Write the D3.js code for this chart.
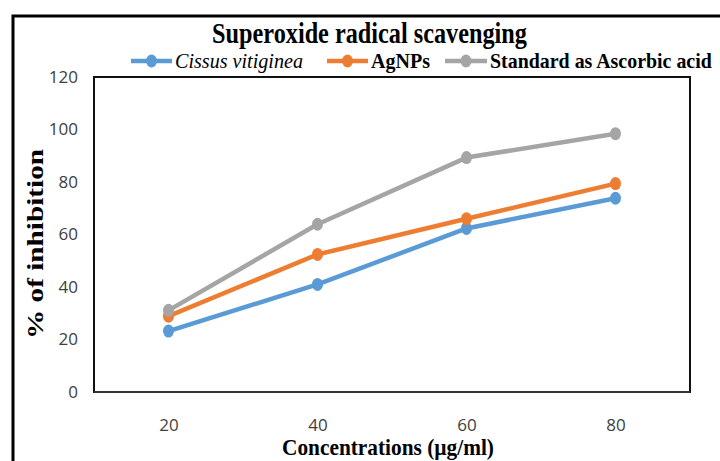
<!DOCTYPE html>
<html><head><meta charset="utf-8">
<script src="https://cdn.jsdelivr.net/npm/d3@7"></script>
<style>
html,body{margin:0;padding:0;background:#fff;}
svg{display:block;}
</style></head>
<body>
<svg id="chart" width="720" height="461"></svg>
<script>
const categories = ["20", "40", "60", "80"];
const cissus = [23.2, 41.0, 62.3, 73.8];
const agnps = [28.9, 52.4, 66.0, 79.4];
const ascorbic = [31.1, 63.9, 89.3, 98.4];
const yTicks = [0, 20, 40, 60, 80, 100, 120];
const seriesNames = ["Cissus vitiginea", "AgNPs", "Standard as Ascorbic acid"];
const seriesColors = ["#5B9BD5", "#ED7D31", "#A5A5A5"];

(function () {
const svg = d3.select("#chart");
const serif = "'Liberation Serif','Times New Roman',serif";
const sans = "'Open Sans','Liberation Sans',sans-serif";

// text placed at (x, y) with its left/centre anchor, horizontally scaled to a target width
function fitText(parent, str, x, y, width, opts) {
  const g = parent.append("g");
  const t = g.append("text").attr("x", 0).attr("y", 0)
    .attr("font-family", serif).attr("font-size", opts.size)
    .attr("font-weight", opts.weight || "bold")
    .attr("font-style", opts.style || "normal")
    .attr("text-anchor", opts.anchor || "start")
    .text(str);
  const natural = t.node().getComputedTextLength();
  const sx = width / natural;
  g.attr("transform", `translate(${x},${y})${opts.rotate ? " rotate(" + opts.rotate + ")" : ""} scale(${sx},1)`);
  return g;
}

// outer frame
svg.append("rect").attr("x", 13).attr("y", 16).attr("width", 760).attr("height", 500)
  .attr("fill", "none").attr("stroke", "#000").attr("stroke-width", 3);

const pLeft = 94, pRight = 690, pTop = 77, pBottom = 392;
const x = d3.scalePoint().domain(categories).range([pLeft, pRight]).padding(0.5);
const y = d3.scaleLinear().domain([0, 120]).range([pBottom, pTop]);

// plot frame
svg.append("rect").attr("x", pLeft).attr("y", pTop).attr("width", pRight - pLeft).attr("height", pBottom - pTop)
  .attr("fill", "none").attr("stroke", "#111").attr("stroke-width", 2);
svg.append("line").attr("x1", pLeft).attr("x2", pRight).attr("y1", pBottom).attr("y2", pBottom)
  .attr("stroke", "#333").attr("stroke-width", 2);

// axes
const yAxis = svg.append("g").attr("transform", `translate(${pLeft},0)`)
  .call(d3.axisLeft(y).tickValues(yTicks).tickSize(0).tickPadding(16));
yAxis.select(".domain").remove();
yAxis.selectAll("text").attr("font-family", sans).attr("font-size", 17).attr("fill", "#404040");

const xAxis = svg.append("g").attr("transform", `translate(0,${pBottom})`)
  .call(d3.axisBottom(x).tickSize(0).tickPadding(27));
xAxis.select(".domain").remove();
xAxis.selectAll("text").attr("font-family", sans).attr("font-size", 17).attr("fill", "#404040");

// series
const data = [cissus, agnps, ascorbic];
const line = d3.line().x((d, i) => x(categories[i])).y(d => y(d));
data.forEach((vals, k) => {
  svg.append("path").attr("d", line(vals)).attr("fill", "none")
    .attr("stroke", seriesColors[k]).attr("stroke-width", 4.5).attr("stroke-linejoin", "round");
  svg.selectAll(null).data(vals).enter().append("ellipse")
    .attr("cx", (d, i) => x(categories[i])).attr("cy", d => y(d))
    .attr("rx", 5.5).attr("ry", 6.5).attr("fill", seriesColors[k]);
});

// title
fitText(svg, "Superoxide radical scavenging", 369.5, 43, 315, {size: 30, anchor: "middle"});

// legend
const legendItems = [
  {x1: 131, x2: 172, tx: 175, tw: 128, italic: true},
  {x1: 327, x2: 368, tx: 371, tw: 59, italic: false},
  {x1: 445, x2: 487, tx: 490, tw: 222, italic: false}
];
legendItems.forEach((it, k) => {
  const g = svg.append("g");
  g.append("line").attr("x1", it.x1).attr("x2", it.x2).attr("y1", 61).attr("y2", 61)
    .attr("stroke", seriesColors[k]).attr("stroke-width", 4.5);
  g.append("ellipse").attr("cx", (it.x1 + it.x2) / 2).attr("cy", 61).attr("rx", 5.5).attr("ry", 6.5)
    .attr("fill", seriesColors[k]);
  fitText(g, seriesNames[k], it.tx, 68, it.tw, {
    size: 22,
    weight: it.italic ? "normal" : "bold",
    style: it.italic ? "italic" : "normal"
  });
});

// axis titles
fitText(svg, "Concentrations (µg/ml)", 388, 455, 212, {size: 23, anchor: "middle"});

const yt = svg.append("text").attr("transform", "translate(43,244) rotate(-90)").attr("text-anchor", "middle")
  .attr("font-family", serif).attr("font-weight", "bold").attr("font-size", 24)
  .attr("textLength", 190).attr("lengthAdjust", "spacingAndGlyphs")
  .text("% of inhibition");
})();
</script>
</body></html>
